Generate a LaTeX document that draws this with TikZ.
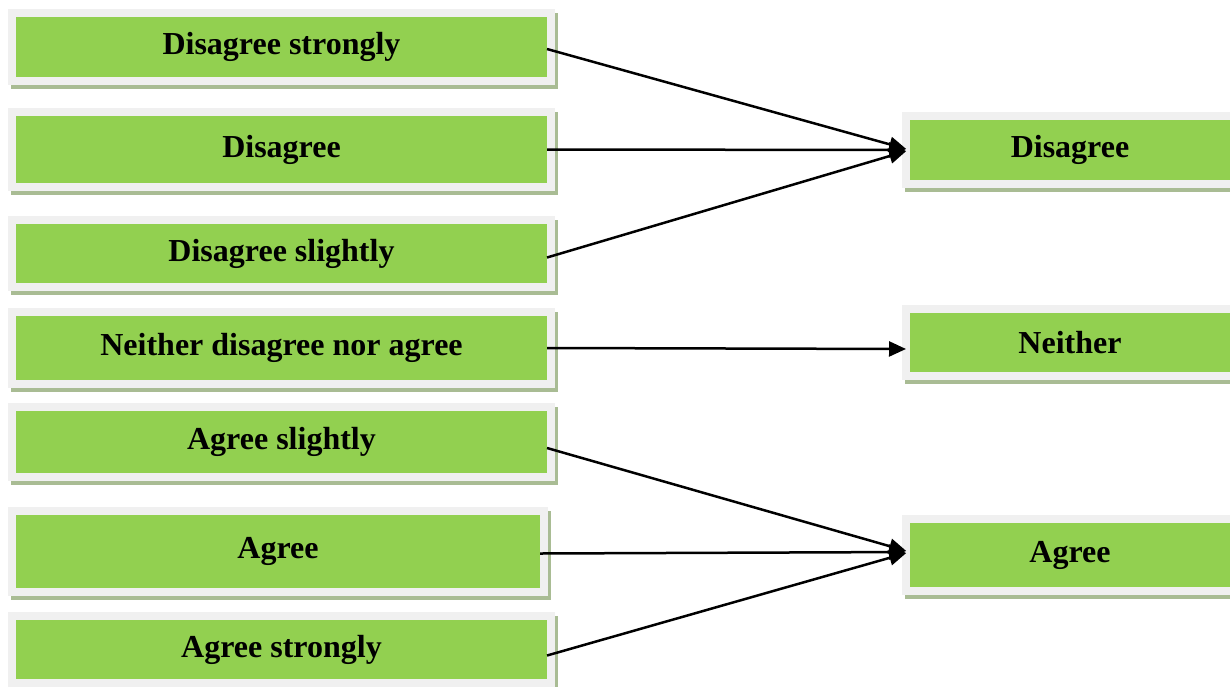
\documentclass[tikz,border=0pt]{standalone}
\usepackage{fontspec}
\setmainfont{Liberation Serif}
\usetikzlibrary{arrows.meta}
\definecolor{boxgreen}{HTML}{92D050}
\definecolor{framegray}{HTML}{F0F0F0}
\definecolor{shadowgreen}{HTML}{A9BC94}

\begin{document}
\begin{tikzpicture}[x=0.5pt, y=-0.5pt,
    box/.style={fill=boxgreen, minimum width=265.5pt, inner sep=0pt, outer sep=0pt,
        font=\fontsize{16}{19}\selectfont\bfseries,
        preaction={draw=shadowgreen, fill=shadowgreen, line width=8pt, transform canvas={shift={(1.5pt,-2pt)}}},
        preaction={draw=framegray, line width=8pt}},
    link/.style={line width=1.25pt, -{Triangle[length=8.5pt, width=7.5pt]}, shorten >=2pt}]
    \useasboundingbox (0,0) rectangle (1230,686);
    % answers on the left
    \node[box, minimum height=30pt] (ds) at (281.5,47) {Disagree strongly};
    \node[box, minimum height=33.5pt] (d) at (281.5,149.5) {Disagree};
    \node[box, minimum height=29.5pt] (dsl) at (281.5,253.5) {Disagree slightly};
    \node[box, minimum height=32pt] (n) at (281.5,348) {Neither disagree nor agree};
    \node[box, minimum height=31pt] (asl) at (281.5,442) {Agree slightly};
    \node[box, minimum height=36.5pt, minimum width=262pt] (a) at (278,551.5) {Agree};
    \node[box, minimum height=29.5pt] (as) at (281.5,649.5) {Agree strongly};
    % grouped answers on the right
    \node[box, minimum height=30pt, minimum width=160pt] (D) at (1070,150) {Disagree};
    \node[box, minimum height=29.5pt, minimum width=160pt] (N) at (1070,342.5) {Neither};
    \node[box, minimum height=32pt, minimum width=160pt] (A) at (1070,555) {Agree};
    \foreach \s/\dy in {ds/-1pt, d/0pt, dsl/-2pt}
        \draw[link] ([yshift=\dy]\s.east) -- (D.west);
    \draw[link] (n.east) -- ([yshift=-3.25pt]N.west);
    \foreach \s/\dy in {asl/-3pt, a/-1pt, as/-3pt}
        \draw[link] ([yshift=\dy]\s.east) -- ([yshift=1.5pt]A.west);
\end{tikzpicture}
\end{document}
